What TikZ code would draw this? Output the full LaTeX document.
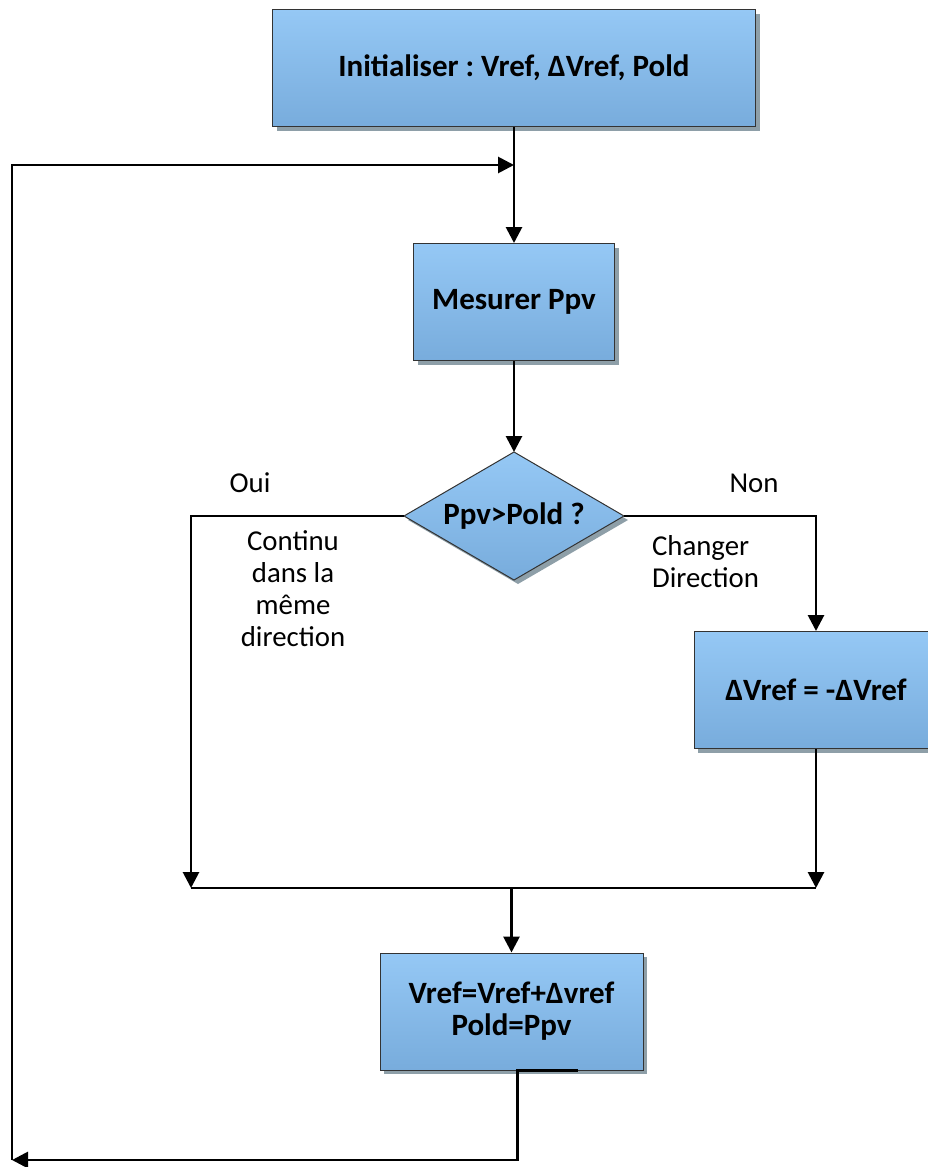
\documentclass[tikz,border=0pt]{standalone}
\usepackage{fontspec}
\setmainfont{Carlito}
\frenchspacing
\usetikzlibrary{arrows.meta,positioning,shapes.geometric,shadows}

\definecolor{boxtop}{HTML}{95C8F5}
\definecolor{boxbot}{HTML}{78ACDC}
\definecolor{shadowgrey}{HTML}{8E9FA8}

\begin{document}
\begin{tikzpicture}[x=0.5pt,y=-0.5pt,>={Triangle[length=8pt,width=8pt]},
  every node/.style={font=\fontsize{15.5}{16}\selectfont\bfseries},
  stepbox/.style={rectangle,draw=black!80,line width=0.5pt,top color=boxtop,bottom color=boxbot,
    minimum height=58.5pt,align=center,
    drop shadow={shadow xshift=2pt,shadow yshift=-2pt,fill=shadowgrey,opacity=1}},
  decision/.style={diamond,aspect=1.72,draw=black!80,line width=0.5pt,top color=boxtop,bottom color=boxbot,
    inner sep=0pt,outer sep=0pt,minimum width=110pt,minimum height=64pt,
    drop shadow={shadow xshift=2pt,shadow yshift=-2pt,fill=shadowgrey,opacity=1}},
  flow/.style={line width=1.4pt,black},
  note/.style={font=\fontsize{14.4}{16}\selectfont,align=center}]
\useasboundingbox (0,0) rectangle (927,1167);

\node[stepbox,minimum width=241.5pt] (init) at (514,68) {Initialiser : Vref, ΔVref, Pold};
\node[stepbox,minimum width=100.5pt,below=58pt of init] (mesure) {Mesurer Ppv};
\node[decision] (test) at (514,516) {Ppv>Pold ?};
\node[stepbox,minimum width=122pt] (inverse) at (816,690) {ΔVref = -ΔVref};
\node[stepbox,minimum width=131.5pt] (maj) at (511.5,1011.5) {Vref=Vref+Δvref\\Pold=Ppv};

% labels
\node[note] (oui) at (250,483) {Oui};
\node[note] (non) at (754,483) {Non};
\node[note] (meme) at (293,589) {Continu\\dans la\\même\\direction};
\node[note,align=left,anchor=west] (change) at (645,562) {Changer\\Direction};

% junctions
\coordinate (gauche) at (191,888);
\coordinate (droite) at (816,888);
\coordinate (merge) at (511.5,888);
\coordinate (coinbas) at (12,1160);
\coordinate (retour) at (514,165);

\draw[flow,->] (init) -- (mesure);
\draw[flow,->] (mesure) -- (test);
\draw[flow,->] (test.west) -| (gauche);
\draw[flow,->] (test.east) -| (inverse.north);
\draw[flow,->] (inverse) -- (droite);
\draw[flow] (gauche) -- (droite);
\draw[flow,->] (merge) -- (maj);
\draw[flow,->] ([xshift=33pt]maj.south) -- ([xshift=3pt]maj.south) |- (coinbas);
\draw[flow,->] (coinbas) |- (retour);
\end{tikzpicture}
\end{document}
